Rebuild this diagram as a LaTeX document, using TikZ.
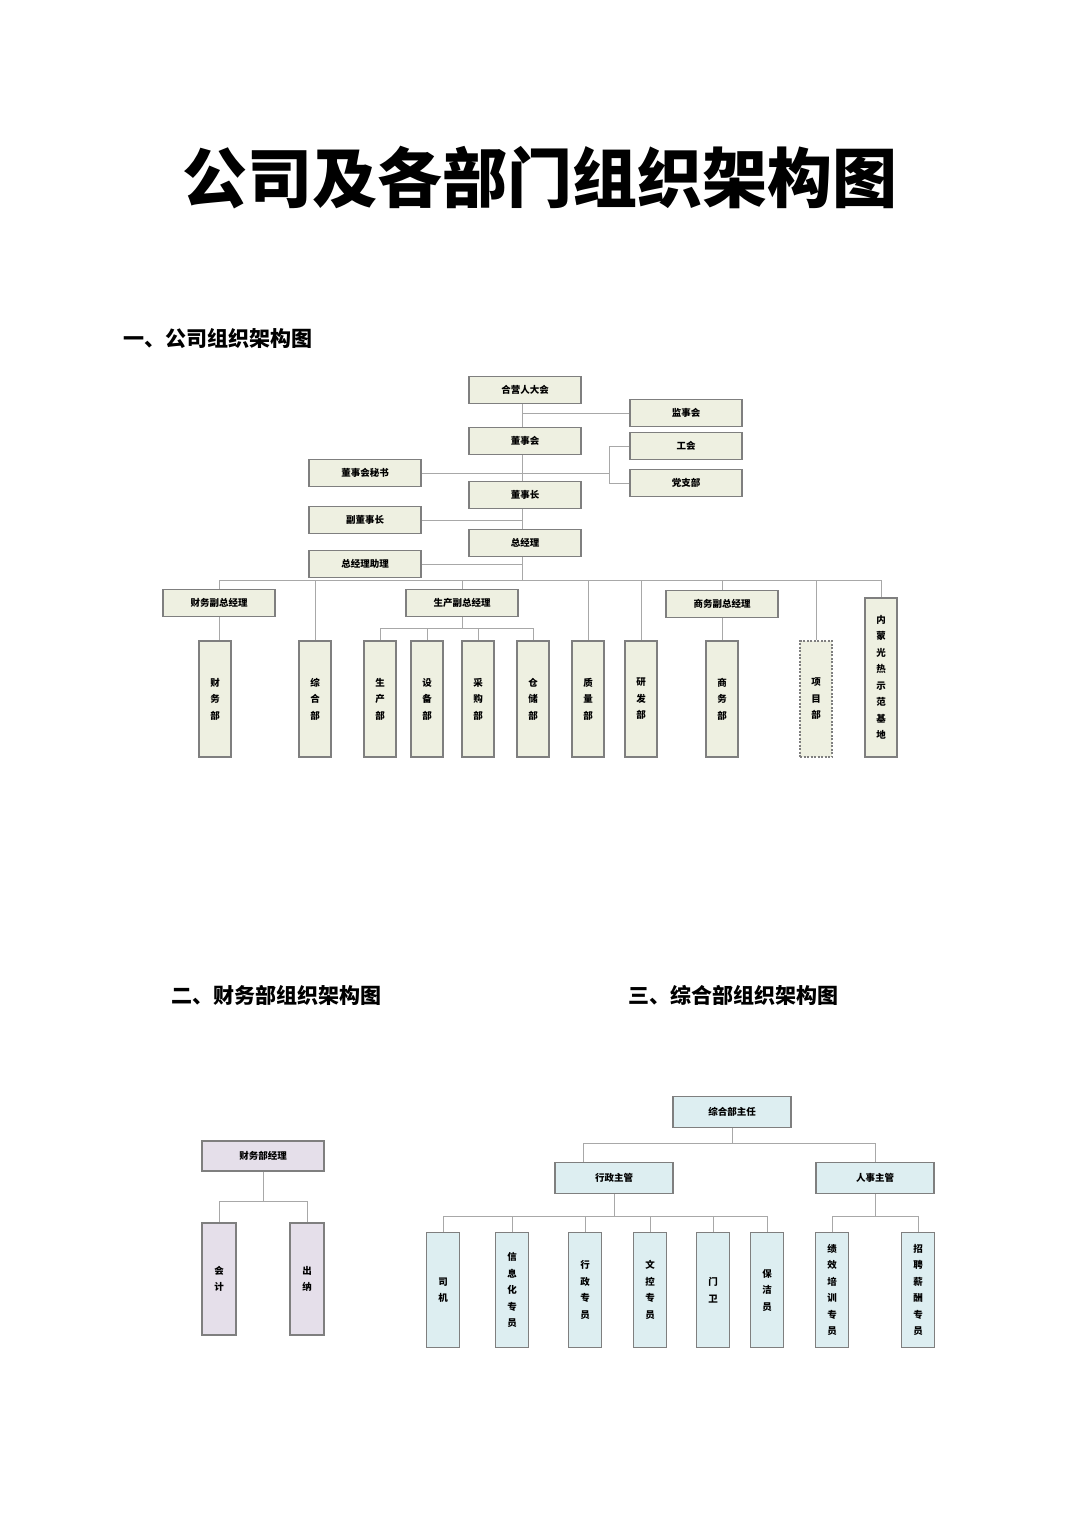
\documentclass[tikz,border=0pt]{standalone}
\usepackage{fontspec}
\newfontfamily\cjk{Noto Sans CJK SC}
\definecolor{bgray}{HTML}{7F7F7F}
\definecolor{lgray}{HTML}{A8A8A8}
\definecolor{gfill}{HTML}{EEF0E1}
\definecolor{pfill}{HTML}{E5DFEA}
\definecolor{bfill}{HTML}{DDEEF1}
\begin{document}
\begin{tikzpicture}[x=1pt,y=-1pt,
  bx/.style={draw=bgray,line width=1.6pt,fill=gfill,minimum width=112pt,minimum height=27pt,inner sep=0pt,font=\cjk\bfseries\fontsize{9.5}{12}\selectfont},
  vb/.style={draw=bgray,line width=1.6pt,fill=gfill,minimum width=32pt,minimum height=116pt,inner sep=0pt,align=center,font=\cjk\bfseries\fontsize{9.5}{16.5}\selectfont},
  pb/.style={bx,fill=pfill,minimum width=122pt,minimum height=30pt},
  pv/.style={vb,fill=pfill,minimum width=34pt,minimum height=112pt},
  cb/.style={bx,fill=bfill,minimum width=118pt,minimum height=31pt},
  cv/.style={vb,fill=bfill,minimum width=33pt,minimum height=115pt},
  ln/.style={draw=lgray,line width=1pt},
  hd/.style={anchor=west,font=\cjk\bfseries\fontsize{21}{26}\selectfont}]
\fill[white] (0,0) rectangle (1080,1527);
\node[font=\cjk\bfseries\fontsize{65}{75}\selectfont] (title) at (540,178) {公司及各部门组织架构图};
\node[hd] (h1) at (120,339) {一、公司组织架构图};
\node[hd] (h2) at (168,995) {二、财务部组织架构图};
\node[hd] (h3) at (625,995) {三、综合部组织架构图};
% ---- chart 1
\coordinate (t) at (522,0);
\coordinate (bus) at (0,580);
\coordinate (sub) at (0,628);
\coordinate (fork) at (609,0);
\node[bx] (gh) at (525,390) {合营人大会};
\node[bx] (js) at (686,413) {监事会};
\node[bx] (ds) at (525,441) {董事会};
\node[bx] (gh2) at (686,446) {工会};
\node[bx] (ms) at (365,473) {董事会秘书};
\node[bx] (dz) at (686,483) {党支部};
\node[bx] (dsz) at (525,495) {董事长};
\node[bx] (fd) at (365,520) {副董事长};
\node[bx] (zj) at (525,543) {总经理};
\node[bx] (zl) at (365,564) {总经理助理};
\draw[ln] (t|-gh.south) -- (t|-ds.north);
\draw[ln] (t|-ds.south) -- (t|-dsz.north);
\draw[ln] (t|-dsz.south) -- (t|-zj.north);
\draw[ln] (t|-zj.south) -- (t|-bus);
\draw[ln] (t|-js) -- (js.west);
\draw[ln] (ms.east) -- (fork|-ms);
\draw[ln] (gh2.west) -- (fork|-gh2) -- (fork|-dz) -- (dz.west);
\draw[ln] (fd.east) -- (t|-fd);
\draw[ln] (zl.east) -- (t|-zl);
\node[bx] (cwf) at (219,603) {财务副总经理};
\node[bx] (scf) at (462,603) {生产副总经理};
\node[bx] (swf) at (722,604) {商务副总经理};
\node[vb] (cw) at (215,699) {财\\务\\部};
\node[vb] (zh) at (315,699) {综\\合\\部};
\node[vb] (sc) at (380,699) {生\\产\\部};
\node[vb] (sb) at (427,699) {设\\备\\部};
\node[vb] (cg) at (478,699) {采\\购\\部};
\node[vb] (cc) at (533,699) {仓\\储\\部};
\node[vb] (zl2) at (588,699) {质\\量\\部};
\node[vb] (yf) at (641,699) {研\\发\\部};
\node[vb] (sw) at (722,699) {商\\务\\部};
\node[vb,dashed,dash pattern=on 2pt off 1.5pt,line width=1.3pt] (xm) at (816,699) {项\\目\\部};
\node[vb,minimum height=159pt] (nm) at (881,677.5) {内\\蒙\\光\\热\\示\\范\\基\\地};
\draw[ln] (cwf.north|-bus) -- (nm.north|-bus);
\foreach \n in {cwf,scf,swf,zh,zl2,yf,xm,nm} \draw[ln] (\n.north|-bus) -- (\n.north);
\draw[ln] (cwf.south) -- (cwf.south|-cw.north);
\draw[ln] (swf.south) -- (sw.north);
\draw[ln] (scf.south) -- (scf.south|-sub);
\draw[ln] (sc.north|-sub) -- (cc.north|-sub);
\foreach \n in {sc,sb,cg,cc} \draw[ln] (\n.north|-sub) -- (\n.north);
% ---- chart 2
\node[pb] (cwj) at (263,1156) {财务部经理};
\node[pv] (kj) at (219,1279) {会\\计};
\node[pv] (cn) at (307,1279) {出\\纳};
\coordinate (b2) at (0,1201);
\draw[ln] (cwj.south) -- (cwj.south|-b2);
\draw[ln] (kj.north|-b2) -- (cn.north|-b2);
\draw[ln] (kj.north|-b2) -- (kj.north);
\draw[ln] (cn.north|-b2) -- (cn.north);
% ---- chart 3
\node[cb] (zr) at (732,1112) {综合部主任};
\node[cb] (xz) at (614,1178) {行政主管};
\node[cb] (rs) at (875,1178) {人事主管};
\coordinate (b3) at (0,1143);
\coordinate (b4) at (0,1216);
\coordinate (xl) at (583,0);
\node[cv] (sj) at (443,1290) {司\\机};
\node[cv] (xx) at (512,1290) {信\\息\\化\\专\\员};
\node[cv] (xzz) at (585,1290) {行\\政\\专\\员};
\node[cv] (wk) at (650,1290) {文\\控\\专\\员};
\node[cv] (mw) at (713,1290) {门\\卫};
\node[cv] (bj) at (767,1290) {保\\洁\\员};
\node[cv] (jx) at (832,1290) {绩\\效\\培\\训\\专\\员};
\node[cv] (zp) at (918,1290) {招\\聘\\薪\\酬\\专\\员};
\draw[ln] (zr.south) -- (zr.south|-b3);
\draw[ln] (xz.north-|xl) -- (xl|-b3) -- (rs.north|-b3) -- (rs.north);
\draw[ln] (xz.south) -- (xz.south|-b4);
\draw[ln] (rs.south) -- (rs.south|-b4);
\draw[ln] (sj.north|-b4) -- (bj.north|-b4);
\draw[ln] (jx.north|-b4) -- (zp.north|-b4);
\foreach \n in {sj,xx,xzz,wk,mw,bj,jx,zp} \draw[ln] (\n.north|-b4) -- (\n.north);
\end{tikzpicture}
\end{document}
